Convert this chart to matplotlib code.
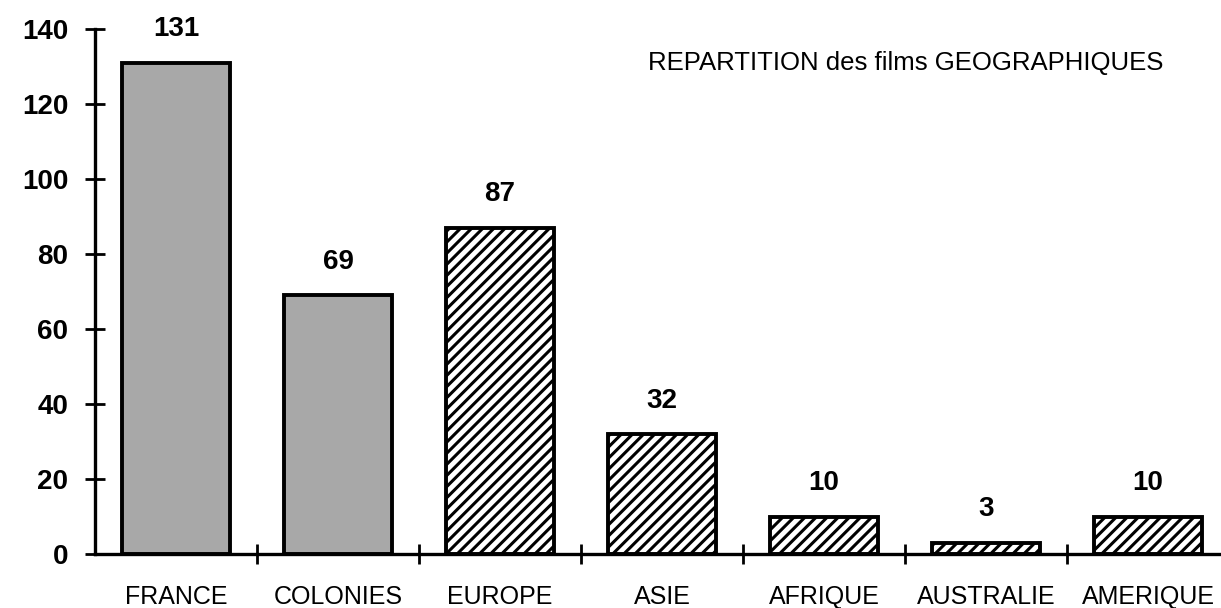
import numpy as np
import matplotlib
matplotlib.use("Agg")
import matplotlib.pyplot as plt
from matplotlib import ticker

regions = ["FRANCE", "COLONIES", "EUROPE", "ASIE", "AFRIQUE", "AUSTRALIE", "AMERIQUE"]
films = [131, 69, 87, 32, 10, 3, 10]
stippled = [True, True, False, False, False, False, False]
title = "REPARTITION des films GEOGRAPHIQUES"
yticks = [0, 20, 40, 60, 80, 100, 120, 140]

plt.rcParams['font.family'] = ['Liberation Sans', 'DejaVu Sans']
plt.rcParams['hatch.linewidth'] = 2.2

fig = plt.figure(figsize=(12.21, 6.08), dpi=100)
ax = fig.add_axes([95 / 1221, 54 / 608, 1126 / 1221, 525 / 608])

x = np.arange(len(regions))
for i, v in enumerate(films):
    if stippled[i]:
        ax.bar(x[i], v, width=0.667, color='#a8a8a8', edgecolor='black', linewidth=2.8, zorder=2)
    else:
        ax.bar(x[i], v, width=0.667, color='white', edgecolor='black', hatch='///', linewidth=2.8, zorder=2)
    ax.annotate(str(v), (x[i], v), xytext=(0, 24), textcoords='offset points',
                ha='center', va='center', fontsize=20, fontweight='bold', clip_on=False)

ax.set_xlim(-0.5, 6.45)
ax.set_ylim(0, 140)

for s in ['top', 'right']:
    ax.spines[s].set_visible(False)
ax.spines['left'].set_linewidth(2.4)
ax.spines['bottom'].set_linewidth(2.4)

ax.yaxis.set_major_locator(ticker.FixedLocator(yticks))
ax.tick_params(axis='y', direction='inout', length=14.4, width=2, pad=12, labelsize=20)
for lab in ax.get_yticklabels():
    lab.set_fontweight('bold')

ax.xaxis.set_major_locator(ticker.FixedLocator(x[:-1] + 0.5))
ax.xaxis.set_major_formatter(ticker.NullFormatter())
ax.xaxis.set_minor_locator(ticker.FixedLocator(x))
ax.xaxis.set_minor_formatter(ticker.FixedFormatter(regions))
ax.tick_params(axis='x', which='major', direction='inout', length=14.4, width=2)
ax.tick_params(axis='x', which='minor', length=0, pad=22, labelsize=18)

fig.text(648 / 1221, 1 - 63 / 608, title, ha='left', va='center', fontsize=18.5)

fig.savefig('out.png', dpi=100)
